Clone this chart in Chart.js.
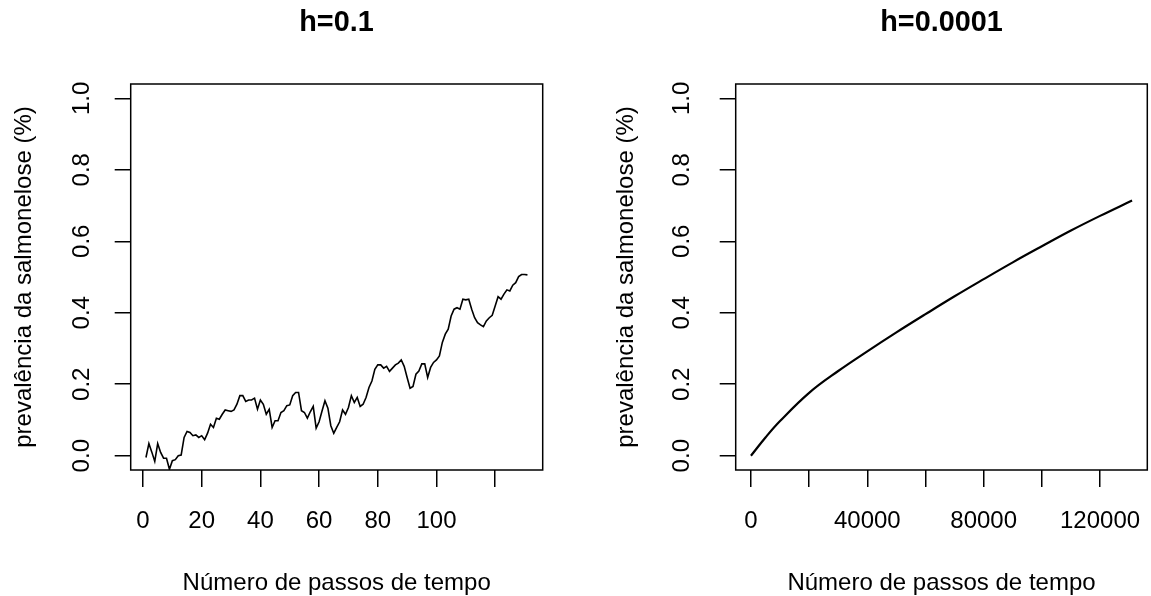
<!DOCTYPE html>
<html>
<head>
<meta charset="utf-8">
<script src="https://cdn.jsdelivr.net/npm/chart.js@4.4.1/dist/chart.umd.min.js"></script>
<style>
  html, body { margin: 0; padding: 0; background: #fff; overflow: hidden; }
  body { width: 1151px; height: 596px; position: relative; }
  canvas { position: absolute; top: 0; }
  #graficoA { left: 0; }
  #graficoB { left: 600px; }
</style>
</head>
<body>
<canvas id="graficoA" width="673" height="596"></canvas>
<canvas id="graficoB" width="683" height="596"></canvas>
<script>
// h = 0.1: prevalência em cada passo (passos 1..131)
const prevA = [
  -0.005, 0.034, 0.010, -0.016, 0.034, 0.009, -0.007, -0.007, -0.038, -0.014,
  -0.011, 0.000, 0.002, 0.051, 0.068, 0.065, 0.056, 0.058, 0.051, 0.056,
  0.045, 0.063, 0.088, 0.079, 0.105, 0.102, 0.116, 0.128, 0.126, 0.124,
  0.128, 0.144, 0.168, 0.168, 0.152, 0.156, 0.156, 0.161, 0.130, 0.156,
  0.144, 0.116, 0.130, 0.079, 0.098, 0.098, 0.121, 0.126, 0.140, 0.142,
  0.168, 0.177, 0.177, 0.126, 0.121, 0.105, 0.123, 0.138, 0.077, 0.095,
  0.125, 0.154, 0.133, 0.084, 0.063, 0.079, 0.095, 0.128, 0.116, 0.135,
  0.168, 0.149, 0.163, 0.138, 0.144, 0.163, 0.191, 0.209, 0.242, 0.254,
  0.254, 0.245, 0.250, 0.236, 0.245, 0.254, 0.259, 0.268, 0.250, 0.219,
  0.189, 0.194, 0.228, 0.237, 0.257, 0.257, 0.219, 0.247, 0.261, 0.268,
  0.279, 0.317, 0.340, 0.354, 0.391, 0.410, 0.414, 0.410, 0.438, 0.436,
  0.438, 0.410, 0.386, 0.372, 0.366, 0.361, 0.377, 0.386, 0.393, 0.419,
  0.445, 0.438, 0.452, 0.464, 0.461, 0.477, 0.484, 0.501, 0.507, 0.507,
  0.506
];
const passosA = prevA.map((_, i) => i + 1);

// h = 0.0001: curva suave
const passosB = [0, 5000, 10000, 20000, 30000, 40000, 50000, 60000, 70000,
  80000, 90000, 100000, 110000, 120000, 131000];
const prevB = [0, 0.051, 0.097, 0.176, 0.237, 0.292, 0.345, 0.396, 0.446,
  0.494, 0.541, 0.586, 0.630, 0.671, 0.714];

// marcas dos eixos e quais delas levam rótulo
const marcasY = [0, 0.2, 0.4, 0.6, 0.8, 1.0];
const marcasXA = [0, 20, 40, 60, 80, 100, 120];
const rotulosXA = [0, 20, 40, 60, 80, 100];
const marcasXB = [0, 20000, 40000, 60000, 80000, 100000, 120000];
const rotulosXB = [0, 40000, 80000, 120000];

const tituloY = 'prevalência da salmonelose (%)';
const tituloX = 'Número de passos de tempo';

Chart.defaults.font.family = '"Liberation Sans", Arial, Helvetica, sans-serif';
Chart.defaults.color = '#000';
Chart.defaults.animation = false;

// moldura do painel (como box() no R)
const moldura = {
  id: 'moldura',
  afterDatasetsDraw(chart) {
    const { ctx, chartArea: a } = chart;
    ctx.save();
    ctx.strokeStyle = '#000';
    ctx.lineWidth = 1.5;
    ctx.strokeRect(a.left, a.top, a.right - a.left, a.bottom - a.top);
    ctx.restore();
  }
};

function painel(canvasId, titulo, xs, ys, opts) {
  const pontos = xs.map((x, i) => ({ x, y: ys[i] }));
  return new Chart(document.getElementById(canvasId), {
    type: 'line',
    data: {
      datasets: [{
        data: pontos,
        borderColor: '#000',
        borderWidth: opts.espessura,
        pointRadius: 0,
        tension: opts.suave ? 0.4 : 0,
        fill: false
      }]
    },
    options: {
      responsive: false,
      devicePixelRatio: 1,
      layout: { padding: 0 },
      plugins: {
        legend: { display: false },
        tooltip: { enabled: false },
        title: {
          display: true,
          text: titulo,
          font: { size: 28.8, weight: 'bold' },
          padding: { top: 6, bottom: 43.44 }
        }
      },
      scales: {
        x: {
          type: 'linear',
          position: 'bottom',
          min: opts.xMin,
          max: opts.xMax,
          afterFit: s => { s.height = 126; },
          afterBuildTicks: s => { s.ticks = opts.marcasX.map(v => ({ value: v })); },
          border: { display: false },
          grid: { drawOnChartArea: false, drawTicks: true, tickLength: 17, color: '#000', lineWidth: 1.5 },
          ticks: {
            autoSkip: false,
            maxRotation: 0,
            minRotation: 0,
            padding: 20,
            font: { size: 24 },
            callback: v => opts.rotulosX.includes(v) ? String(v) : ''
          },
          title: {
            display: true,
            text: tituloX,
            font: { size: 24, lineHeight: 1 },
            padding: { top: 0, bottom: 1 }
          }
        },
        y: {
          type: 'linear',
          position: 'left',
          min: -0.04,
          max: 1.04,
          afterFit: s => { s.width = opts.margemEsq; },
          afterBuildTicks: s => { s.ticks = marcasY.map(v => ({ value: v })); },
          border: { display: false },
          grid: { drawOnChartArea: false, drawTicks: true, tickLength: 16, color: '#000', lineWidth: 1.5 },
          ticks: {
            autoSkip: false,
            minRotation: 90,
            maxRotation: 90,
            crossAlign: 'center',
            padding: opts.padY,
            font: { size: 24 },
            callback: v => v.toFixed(1)
          },
          title: {
            display: true,
            text: tituloY,
            font: { size: 24 },
            padding: { top: opts.padTituloY, bottom: 0 }
          }
        },
        // eixo vazio à direita, só para reservar a margem
        direita: {
          type: 'linear',
          position: 'right',
          afterFit: s => { s.width = opts.margemDir; },
          border: { display: false },
          grid: { display: false },
          ticks: { display: false }
        }
      }
    },
    plugins: [moldura]
  });
}

painel('graficoA', 'h=0.1', passosA, prevA, {
  xMin: -4.2, xMax: 136.2, marcasX: marcasXA, rotulosX: rotulosXA,
  margemEsq: 130.7, margemDir: 130.3, padY: 15.5, padTituloY: 10,
  espessura: 1.6, suave: false
});

painel('graficoB', 'h=0.0001', passosB, prevB, {
  xMin: -5240, xMax: 136240, marcasX: marcasXB, rotulosX: rotulosXB,
  margemEsq: 135.7, margemDir: 135.7, padY: 20.7, padTituloY: 12.2,
  espessura: 2.2, suave: true
});
</script>
</body>
</html>
